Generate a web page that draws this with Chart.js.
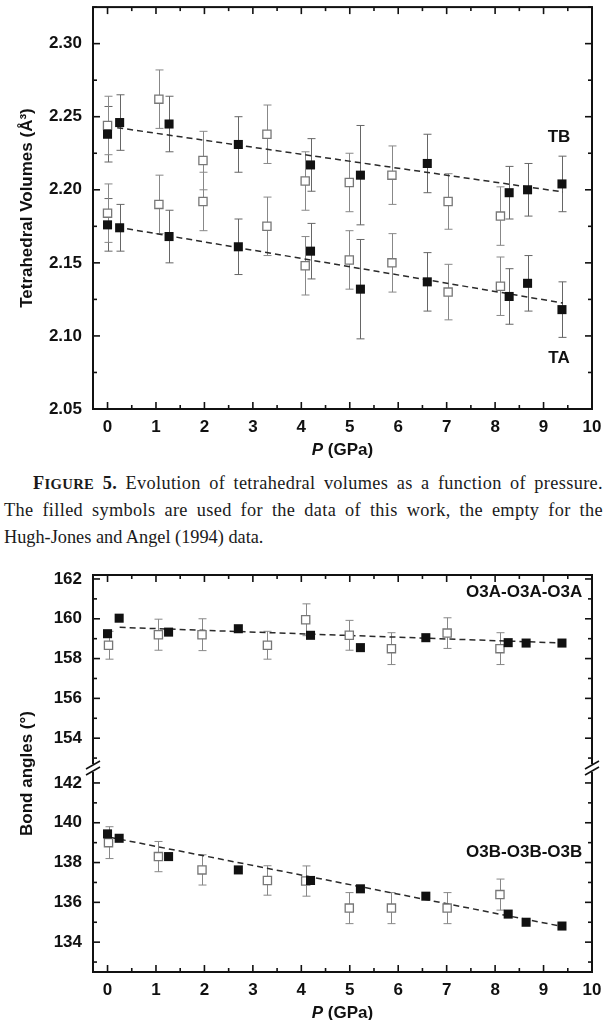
<!DOCTYPE html>
<html>
<head>
<meta charset="utf-8">
<script src="https://cdn.jsdelivr.net/npm/chart.js@4.4.0/dist/chart.umd.min.js"></script>
<style>
  body { margin: 0; background: #fff; width: 612px; height: 1020px; position: relative; overflow: hidden; }
  canvas { position: absolute; left: 0; }
  #vol { top: 0; }
  #ang { top: 565px; }
  .cap { position: absolute; left: 4px; top: 470px; width: 599px; font-family: "Liberation Serif", "Times New Roman", serif;
         font-size: 18.3px; line-height: 26.3px; color: #1a1a1a; }
  .cap div { text-align: justify; text-align-last: justify; white-space: nowrap; letter-spacing: 0.35px; }
  .cap div.first { text-indent: 29px; }
  .cap div.last { text-align-last: left; letter-spacing: 0; }
  .cap b span { font-size: 0.8em; }
</style>
</head>
<body>
<canvas id="vol" width="612" height="470"></canvas>
<div class="cap">
  <div class="first"><b>F<span>IGURE</span> 5.</b> Evolution of tetrahedral volumes as a function of pressure.</div>
  <div>The filled symbols are used for the data of this work, the empty for the</div>
  <div class="last">Hugh-Jones and Angel (1994) data.</div>
</div>
<canvas id="ang" width="612" height="455"></canvas>
<script>
// pressures (GPa)
const pThisWork = [0.0, 0.25, 1.27, 2.70, 4.19, 5.22, 6.60, 8.29, 8.67, 9.38];
const pHughJones = [0.0, 1.06, 1.97, 3.29, 4.08, 4.99, 5.87, 7.03, 8.11];

// tetrahedral volumes (A^3)
const tbThisWork = [2.238, 2.246, 2.245, 2.231, 2.217, 2.210, 2.218, 2.198, 2.200, 2.204];
const tbThisWorkErr = [0.019, 0.019, 0.019, 0.019, 0.018, 0.034, 0.020, 0.018, 0.018, 0.019];
const taThisWork = [2.176, 2.174, 2.168, 2.161, 2.158, 2.132, 2.137, 2.127, 2.136, 2.118];
const taThisWorkErr = [0.018, 0.016, 0.018, 0.019, 0.019, 0.034, 0.020, 0.019, 0.019, 0.019];
const tbHughJones = [2.244, 2.262, 2.220, 2.238, 2.206, 2.205, 2.210, 2.192, 2.182];
const taHughJones = [2.184, 2.190, 2.192, 2.175, 2.148, 2.152, 2.150, 2.130, 2.134];
const volHughJonesErr = [0.020, 0.020, 0.020, 0.020, 0.020, 0.020, 0.020, 0.019, 0.020];
const tbFitX = [0.2, 9.4], tbFitY = [2.2425, 2.1985];
const taFitX = [0.2, 9.4], taFitY = [2.1745, 2.1225];

// bond angles (deg)
const pThisWork2 = [0.0, 0.24, 1.26, 2.70, 4.19, 5.22, 6.57, 8.27, 8.64, 9.38];
const pHughJones2 = [0.02, 1.05, 1.95, 3.30, 4.09, 4.99, 5.86, 7.01, 8.10];
const o3aThisWork = [159.25, 160.03, 159.33, 159.5, 159.17, 158.55, 159.05, 158.8, 158.78, 158.78];
const o3bThisWork = [139.44, 139.22, 138.3, 137.63, 137.1, 136.68, 136.31, 135.41, 135.0, 134.81];
const o3aHughJones = [158.67, 159.2, 159.2, 158.67, 159.95, 159.17, 158.5, 159.28, 158.5];
const o3aHughJonesErr = [0.7, 0.78, 0.8, 0.7, 0.8, 0.75, 0.8, 0.77, 0.8];
const o3bHughJones = [139.0, 138.3, 137.63, 137.1, 137.07, 135.71, 135.71, 135.71, 136.39];
const o3bHughJonesErr = [0.8, 0.76, 0.76, 0.74, 0.76, 0.78, 0.78, 0.78, 0.78];
const o3aFitX = [0.25, 9.4], o3aFitY = [159.57, 158.78];
const o3bFitX = [0.05, 9.4], o3bFitY = [139.27, 134.78];

const SANS = "'Liberation Sans', Arial, sans-serif";
const tickFont = { family: SANS, size: 17, weight: 'bold' };

const pts = (xs, ys) => xs.map((x, i) => ({ x: x, y: ys[i] }));

function filled(xs, ys, errs, axis) {
  return { data: pts(xs, ys), errors: errs, yAxisID: axis, order: 0, pointStyle: 'rect', pointRadius: 6.4,
    pointHoverRadius: 6.4, backgroundColor: '#111', borderColor: '#111', borderWidth: 0, showLine: false };
}
function empty(xs, ys, errs, axis) {
  return { data: pts(xs, ys), errors: errs, yAxisID: axis, order: 1, pointStyle: 'rect', pointRadius: 5.8,
    pointHoverRadius: 5.8, backgroundColor: '#fff', borderColor: '#777', borderWidth: 1.3, showLine: false,
    errorColor: '#888' };
}
function fit(xs, ys, axis) {
  return { data: pts(xs, ys), yAxisID: axis, order: 2, showLine: true, pointRadius: 0, borderColor: '#2a2a2a',
    borderWidth: 1.5, borderDash: [6, 4], fill: false };
}

// error bars go under the symbols
const errorBars = {
  id: 'errorBars',
  beforeDatasetsDraw(chart) {
    const ctx = chart.ctx, xs = chart.scales.x;
    ctx.save();
    chart.data.datasets.forEach(ds => {
      if (!ds.errors) return;
      const ys = chart.scales[ds.yAxisID];
      ctx.strokeStyle = ds.errorColor || '#666';
      ctx.lineWidth = 1;
      ds.data.forEach((p, j) => {
        const e = ds.errors[j];
        const px = Math.round(xs.getPixelForValue(p.x)) + 0.5;
        const y1 = ys.getPixelForValue(p.y + e), y2 = ys.getPixelForValue(p.y - e);
        ctx.beginPath();
        ctx.moveTo(px, y1); ctx.lineTo(px, y2);
        ctx.moveTo(px - 4, y1); ctx.lineTo(px + 4, y1);
        ctx.moveTo(px - 4, y2); ctx.lineTo(px + 4, y2);
        ctx.stroke();
      });
    });
    ctx.restore();
  }
};

// frame box, inward ticks on all four sides, titles and labels
const frame = {
  id: 'frame',
  afterDraw(chart, args, opts) {
    const { ctx, chartArea: a, scales } = chart;
    const xs = scales.x;
    ctx.save();
    ctx.strokeStyle = '#111';
    ctx.lineWidth = 1.6;
    const seg = (x1, y1, x2, y2) => { ctx.beginPath(); ctx.moveTo(x1, y1); ctx.lineTo(x2, y2); ctx.stroke(); };

    for (let i = Math.ceil(xs.min / opts.xMinor - 1e-9); i * opts.xMinor <= xs.max + 1e-9; i++) {
      const v = i * opts.xMinor;
      const px = xs.getPixelForValue(v);
      const len = Math.abs(v - Math.round(v / opts.xMajor) * opts.xMajor) < 1e-6 ? 7 : 4;
      seg(px, a.bottom, px, a.bottom - len);
      seg(px, a.top, px, a.top + len);
    }
    opts.yIds.forEach(id => {
      const s = scales[id];
      for (let i = Math.ceil(s.min / opts.yMinor - 1e-9); i * opts.yMinor <= s.max + 1e-9; i++) {
        const v = i * opts.yMinor;
        const py = s.getPixelForValue(v);
        const len = Math.abs(v - Math.round(v / opts.yMajor) * opts.yMajor) < 1e-6 ? 7 : 4;
        seg(a.left, py, a.left + len, py);
        seg(a.right, py, a.right - len, py);
      }
    });

    ctx.lineWidth = 2;
    ctx.strokeRect(a.left, a.top, a.right - a.left, a.bottom - a.top);

    if (opts.breakAt) {
      const yb = scales[opts.breakAt].bottom;
      [a.left, a.right].forEach(x0 => {
        ctx.fillStyle = '#fff';
        ctx.fillRect(x0 - 3, yb - 4, 6, 8);
        ctx.lineWidth = 1.6;
        [-3, 3].forEach(d => seg(x0 - 7, yb + d + 4, x0 + 7, yb + d - 4));
      });
    }

    ctx.fillStyle = '#111';
    // x title: italic P
    const cx = (a.left + a.right) / 2, ty = a.bottom + 41;
    ctx.textBaseline = 'middle';
    ctx.font = 'italic bold 17px ' + SANS;
    const wP = ctx.measureText('P').width;
    ctx.font = 'bold 17px ' + SANS;
    const wR = ctx.measureText(' (GPa)').width;
    ctx.textAlign = 'left';
    ctx.font = 'italic bold 17px ' + SANS;
    ctx.fillText('P', cx - (wP + wR) / 2, ty);
    ctx.font = 'bold 17px ' + SANS;
    ctx.fillText(' (GPa)', cx - (wP + wR) / 2 + wP, ty);

    // y title
    ctx.save();
    ctx.translate(27, (a.top + a.bottom) / 2);
    ctx.rotate(-Math.PI / 2);
    ctx.textAlign = 'center';
    ctx.fillText(opts.yTitle, 0, 0);
    ctx.restore();

    opts.labels.forEach(l => {
      ctx.textAlign = l.align || 'center';
      ctx.fillText(l.text, xs.getPixelForValue(l.x), scales[l.axis].getPixelForValue(l.y));
    });
    ctx.restore();
  }
};

// no extra room for tick labels hanging over the plot edges
function noOverhang(s) {
  s.paddingTop = 0; s.paddingBottom = 0; s.paddingLeft = 0; s.paddingRight = 0;
}

function xAxis(height) {
  return {
    type: 'linear', min: -0.3, max: 10,
    grid: { display: false, drawTicks: false }, border: { display: false },
    ticks: { stepSize: 1, includeBounds: false, autoSkip: false, maxRotation: 0, padding: 8, color: '#111', font: tickFont },
    afterFit(s) { s.height = height; noOverhang(s); }
  };
}
function yAxis(min, max, step, digits, extra) {
  return Object.assign({
    type: 'linear', axis: 'y', position: 'left', min: min, max: max,
    grid: { display: false, drawTicks: false }, border: { display: false },
    ticks: { stepSize: step, includeBounds: false, autoSkip: false, padding: 11, color: '#111', font: tickFont,
      callback: v => v.toFixed(digits) },
    afterFit(s) { s.width = 93; noOverhang(s); }
  }, extra || {});
}

const common = {
  responsive: false, animation: false, devicePixelRatio: 1,
  plugins: { legend: { display: false }, tooltip: { enabled: false } },
  events: []
};

new Chart(document.getElementById('vol'), {
  type: 'scatter',
  data: {
    datasets: [
      filled(pThisWork, tbThisWork, tbThisWorkErr, 'y'),
      filled(pThisWork, taThisWork, taThisWorkErr, 'y'),
      empty(pHughJones, tbHughJones, volHughJonesErr, 'y'),
      empty(pHughJones, taHughJones, volHughJonesErr, 'y'),
      fit(tbFitX, tbFitY, 'y'),
      fit(taFitX, taFitY, 'y')
    ]
  },
  options: Object.assign({}, common, {
    layout: { padding: { top: 7, right: 20, left: 0, bottom: 0 } },
    scales: { x: xAxis(61), y: yAxis(2.05, 2.325, 0.05, 2) },
    plugins: Object.assign({}, common.plugins, {
      frame: { xMinor: 0.5, xMajor: 1, yMinor: 0.025, yMajor: 0.05, yIds: ['y'],
        yTitle: 'Tetrahedral Volumes (Å³)',
        labels: [{ text: 'TB', x: 9.32, y: 2.2358, axis: 'y' }, { text: 'TA', x: 9.32, y: 2.085, axis: 'y' }] }
    })
  }),
  plugins: [errorBars, frame]
});

// lower segment is listed first so the stack puts it at the bottom
new Chart(document.getElementById('ang'), {
  type: 'scatter',
  data: {
    datasets: [
      filled(pThisWork2, o3aThisWork, null, 'yTop'),
      filled(pThisWork2, o3bThisWork, null, 'yBot'),
      empty(pHughJones2, o3aHughJones, o3aHughJonesErr, 'yTop'),
      empty(pHughJones2, o3bHughJones, o3bHughJonesErr, 'yBot'),
      fit(o3aFitX, o3aFitY, 'yTop'),
      fit(o3bFitX, o3bFitY, 'yBot')
    ]
  },
  options: Object.assign({}, common, {
    layout: { padding: { top: 10, right: 20, left: 0, bottom: 0 } },
    scales: {
      x: xAxis(48),
      yBot: yAxis(132.5, 142.75, 2, 0, { stack: 'angles', stackWeight: 10.25 }),
      yTop: yAxis(152.5, 162.2, 2, 0, { stack: 'angles', stackWeight: 9.7 })
    },
    plugins: Object.assign({}, common.plugins, {
      frame: { xMinor: 0.5, xMajor: 1, yMinor: 1, yMajor: 2, yIds: ['yTop', 'yBot'], breakAt: 'yTop',
        yTitle: 'Bond angles (°)',
        labels: [{ text: 'O3A-O3A-O3A', x: 9.8, y: 161.35, axis: 'yTop', align: 'right' },
                 { text: 'O3B-O3B-O3B', x: 9.8, y: 138.5, axis: 'yBot', align: 'right' }] }
    })
  }),
  plugins: [errorBars, frame]
});
</script>
</body>
</html>
